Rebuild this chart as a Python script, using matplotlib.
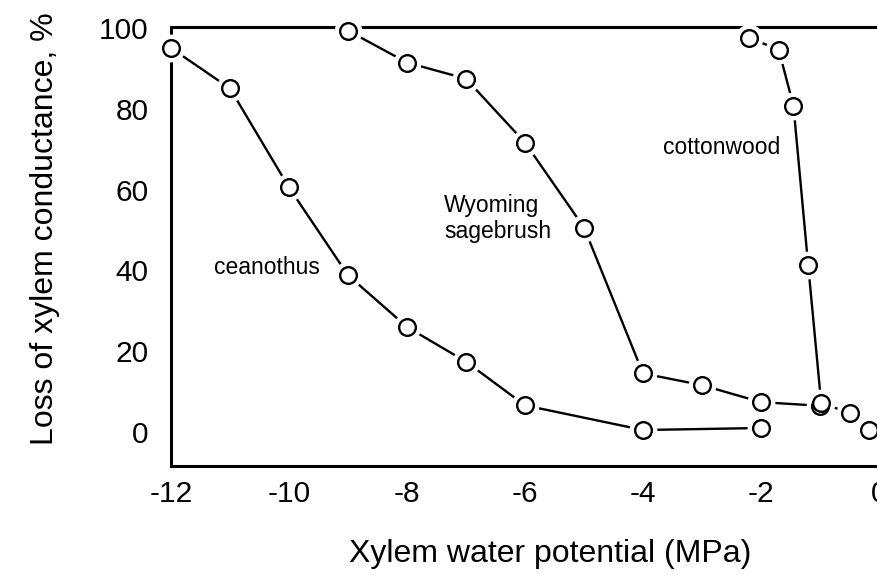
import matplotlib
matplotlib.use('Agg')
import matplotlib.pyplot as plt

plt.rcParams['font.family'] = ['Liberation Sans', 'DejaVu Sans']

# data
ceanothus_x = [-12, -11, -10, -9, -8, -7, -6, -4, -2]
ceanothus_y = [95, 85, 60.5, 38.8, 26, 17.4, 6.6, 0.5, 1]

sage_x = [-9, -8, -7, -6, -5, -4, -3, -2, -1]
sage_y = [99.3, 91.4, 87.4, 71.6, 50.6, 14.5, 11.6, 7.4, 6.5]

cotton_x = [-2.2, -1.7, -1.45, -1.2, -0.98, -0.5, -0.17]
cotton_y = [97.5, 94.6, 80.7, 41.2, 7.2, 4.7, 0.5]

x_ticks = [-12, -10, -8, -6, -4, -2, 0]
y_ticks = [0, 20, 40, 60, 80, 100]

fig = plt.figure(figsize=(8.77, 5.75), dpi=100)
ax = fig.add_axes([171 / 877, 109 / 575, 729 / 877, 439 / 575])

for xs, ys in [(ceanothus_x, ceanothus_y), (sage_x, sage_y), (cotton_x, cotton_y)]:
    ax.plot(xs, ys, color='black', lw=1.7, zorder=2, clip_on=False)
    # white halo so the line stops short of each circle
    ax.plot(xs, ys, 'o', ms=20, color='white', mec='none', zorder=3, clip_on=False)
    ax.plot(xs, ys, 'o', ms=12, mfc='white', mec='black', mew=1.7, zorder=4, clip_on=False)

ax.set_xlim(-12.0, -12 + 729 / 59)
ax.set_ylim(-8.4, 100.2)
ax.set_xticks(x_ticks)
ax.set_yticks(y_ticks)
ax.set_xticklabels([str(t) for t in x_ticks])
ax.tick_params(length=0, labelsize=21.5)
ax.tick_params(axis='y', pad=16)
ax.tick_params(axis='x', pad=10)

for side in ['left', 'bottom', 'top']:
    ax.spines[side].set_linewidth(2.2)
ax.spines['right'].set_visible(False)

ax.set_xlabel('Xylem water potential (MPa)', fontsize=23)
ax.set_ylabel('Loss of xylem conductance, %', fontsize=23)
ax.xaxis.set_label_coords((550 - 171) / 729, (466 - 539) / 439)
ax.yaxis.set_label_coords((60 - 171) / 729, (466 - 229) / 439)

ax.text(-11.27, 40.7, 'ceanothus', fontsize=16.5, va='center', ha='left')
ax.text(-7.37, 52.8, 'Wyoming\nsagebrush', fontsize=16.5, va='center', ha='left', linespacing=1.15)
ax.text(-3.66, 70.4, 'cottonwood', fontsize=16.5, va='center', ha='left')

fig.savefig('out.png', dpi=100)
